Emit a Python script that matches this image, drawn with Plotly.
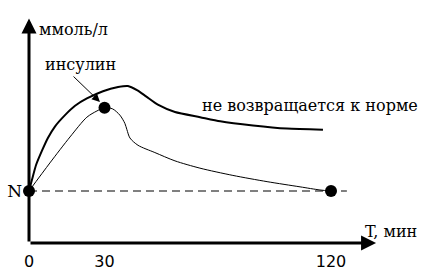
import plotly.graph_objects as go

# ---- data (time in minutes, glucose level in arbitrary units) ----
t_no_return = [0, 1.2, 2.8, 5.2, 7.5, 10.3, 14.3, 18.3, 23, 29.4, 35.4, 39.3, 42.9,
               46.5, 51.2, 58, 68, 76, 89, 102.5, 116.8]
v_no_return = [5.0, 6.1, 7.5, 8.9, 10.1, 11.2, 12.3, 13.2, 13.9, 14.6, 15.0, 15.1, 14.7,
               14.1, 13.3, 12.6, 12.1, 11.7, 11.3, 11.0, 10.9]

t_normal = [0, 8.3, 16.3, 23.0, 27.0, 30.0, 33.2, 36.1, 38.1, 38.9, 40.1, 43.3, 50.0,
            58.0, 67.9, 81.0, 94.6, 107.7, 115.6, 120]
v_normal = [5.0, 7.7, 10.2, 12.1, 12.7, 13.0, 12.9, 12.3, 11.5, 10.9, 10.1, 9.4, 8.7,
            7.9, 7.2, 6.5, 5.9, 5.4, 5.1, 5.0]

t_points = [0, 30, 120]
v_points = [5.0, 13.0, 5.0]

norm_level = 5.0
x_ticks = [0, 30, 120]
x_ticktext = ["0", "30", "120"]

SERIF = "DejaVu Serif"
BLACK = "black"

fig = go.Figure()

fig.add_trace(go.Scatter(x=[0, 126.3], y=[norm_level, norm_level], mode="lines",
                         line=dict(color=BLACK, width=1, dash="8px,5px"),
                         hoverinfo="skip", cliponaxis=False))
fig.add_trace(go.Scatter(x=t_no_return, y=v_no_return, mode="lines",
                         line=dict(color=BLACK, width=2, shape="spline", smoothing=0.6),
                         cliponaxis=False))
fig.add_trace(go.Scatter(x=t_normal, y=v_normal, mode="lines",
                         line=dict(color=BLACK, width=1, shape="spline", smoothing=0.8),
                         cliponaxis=False))
fig.add_trace(go.Scatter(x=t_points, y=v_points, mode="markers",
                         marker=dict(color=BLACK, size=12),
                         cliponaxis=False))

ann = []
ann.append(dict(x=0, y=21.6, ax=0, ay=0, xref="x", yref="y", axref="x", ayref="y",
                showarrow=True, arrowhead=2, arrowsize=1, arrowwidth=3,
                arrowcolor=BLACK, text=""))
ann.append(dict(x=137.9, y=0, ax=0, ay=0, xref="x", yref="y", axref="x", ayref="y",
                showarrow=True, arrowhead=2, arrowsize=1, arrowwidth=3,
                arrowcolor=BLACK, text=""))
ann.append(dict(x=28.2, y=13.56, ax=17.1, ay=16.15, xref="x", yref="y",
                axref="x", ayref="y", showarrow=True, arrowhead=2, arrowsize=1.6,
                arrowwidth=1, arrowcolor=BLACK, text=""))
ann.append(dict(x=3.2, y=20.5, xref="x", yref="y", text="ммоль/л", showarrow=False,
                xanchor="left", yanchor="middle",
                font=dict(family=SERIF, size=16, color=BLACK)))
ann.append(dict(x=20.3, y=17.2, xref="x", yref="y", text="инсулин", showarrow=False,
                xanchor="center", yanchor="middle",
                font=dict(family=SERIF, size=16, color=BLACK)))
ann.append(dict(x=67.9, y=13.2, xref="x", yref="y", text="не возвращается к норме",
                showarrow=False, xanchor="left", yanchor="middle",
                font=dict(family=SERIF, size=16, color=BLACK)))
ann.append(dict(x=132.7, y=1.15, xref="x", yref="y", text="T, мин", showarrow=False,
                xanchor="left", yanchor="middle",
                font=dict(family=SERIF, size=16, color=BLACK)))

fig.update_layout(
    width=440, height=275,
    margin=dict(l=29, r=0, t=0, b=32),
    paper_bgcolor="white", plot_bgcolor="white",
    showlegend=False,
    annotations=ann,
    xaxis=dict(range=[0, 163.3], tickvals=x_ticks, ticktext=x_ticktext,
               showgrid=False, zeroline=False, showline=False, ticks="",
               ticklabelstandoff=7,
               tickfont=dict(family="DejaVu Sans", size=16, color=BLACK)),
    yaxis=dict(range=[0, 23.37], tickvals=[norm_level], ticktext=["N"],
               showgrid=False, zeroline=False, showline=False, ticks="",
               ticklabelstandoff=6,
               tickfont=dict(family=SERIF, size=17, color=BLACK)),
)

fig.write_html("out.html")
